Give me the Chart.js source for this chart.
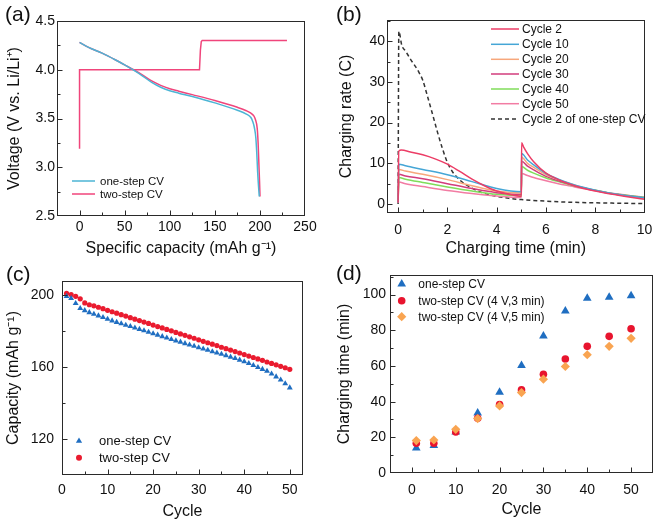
<!DOCTYPE html>
<html><head><meta charset="utf-8">
<script src="https://cdn.jsdelivr.net/npm/chart.js@4.4.0/dist/chart.umd.min.js"></script>
<style>
html,body{margin:0;padding:0;background:#fff;}
#wrap{position:relative;width:661px;height:523px;overflow:hidden;font-family:"Liberation Sans",Arial,Helvetica,sans-serif;}
canvas{position:absolute;}
.lab{position:absolute;font-size:21px;color:#111;line-height:1;}
</style></head><body>
<div id="wrap">
<canvas id="ca" width="330" height="260" style="left:0;top:0"></canvas>
<canvas id="cb" width="331" height="260" style="left:330px;top:0"></canvas>
<canvas id="cc" width="330" height="263" style="left:0;top:260px"></canvas>
<canvas id="cd" width="331" height="263" style="left:330px;top:260px"></canvas>
<div class="lab" style="left:5px;top:3px">(a)</div>
<div class="lab" style="left:336px;top:3px">(b)</div>
<div class="lab" style="left:6px;top:263px">(c)</div>
<div class="lab" style="left:336px;top:262px">(d)</div>
</div>
<script>
// ---------- data: panel (a) ----------
const aXTicks=[0,50,100,150,200,250];
const aXLabels=['0','50','100','150','200','250'];
const aYTicks=[2.5,3.0,3.5,4.0,4.5];
const aYLabels=['2.5','3.0','3.5','4.0','4.5'];
const aOneCap=[0,10,25,40,50,60,70,80,90,100,110,125,150,175,185,190,192,194,195.5,196.5,197.5,198.5,199.3];
const aOneV=[4.28,4.23,4.17,4.10,4.05,3.995,3.935,3.87,3.82,3.785,3.76,3.725,3.66,3.585,3.545,3.51,3.47,3.40,3.30,3.15,2.95,2.80,2.70];
const aTwoCap=[0,10,25,40,50,60,70,80,90,100,110,125,150,175,185,190,193,195,197,198,199,199.6,200.1];
const aTwoV=[4.28,4.23,4.17,4.10,4.05,4.0,3.945,3.885,3.84,3.805,3.78,3.745,3.685,3.615,3.58,3.555,3.53,3.49,3.40,3.25,3.0,2.85,2.70];
const aChgCap=[0,0,133,134,135,136,230];
const aChgV=[3.19,4.0,4.0,4.2,4.29,4.3,4.3];
// ---------- data: panel (b) ----------
const bXTicks=[0,2,4,6,8,10];
const bXLabels=['0','2','4','6','8','10'];
const bYTicks=[0,10,20,30,40];
const bYLabels=['0','10','20','30','40'];
const bC2T=[0,0.03,0.13,0.5,1,1.5,2,2.5,3,3.5,4,4.5,5,5.01,5.1,5.25,5.5,6,6.5,7,7.5,8,8.5,9,9.5,10];
const bC2R=[0.3,13.0,13.25,12.8,12.1,11.1,9.8,8.0,6.1,4.5,3.2,2.4,1.9,15.05,13.9,12.4,10.4,7.6,6.0,4.8,3.9,3.2,2.6,2.1,1.6,1.15];
const bT=[0,0.03,0.3,1,2,3,4,5,5.01,5.25,5.5,6,6.5,7,7.5,8,8.5,9,9.5,10];
const bC10R=[0.3,9.8,9.4,8.5,7.2,5.5,3.8,3.0,12.4,10.8,9.6,7.5,6.1,5.0,4.1,3.4,2.8,2.3,1.9,1.55];
const bC20R=[0.3,8.5,8.1,7.3,6.0,4.5,3.2,2.7,11.5,10.0,9.0,7.2,6.0,5.0,4.1,3.3,2.7,2.2,1.8,1.45];
const bC30R=[0.3,7.3,6.9,6.2,5.0,3.8,2.8,2.4,10.5,9.3,8.4,6.8,5.7,4.8,4.0,3.3,2.7,2.25,1.85,1.5];
const bC40R=[0.3,6.5,6.1,5.3,4.2,3.2,2.4,2.1,9.2,8.3,7.6,6.4,5.5,4.7,4.0,3.4,2.8,2.35,1.95,1.6];
const bC50R=[0.3,5.4,5.0,4.3,3.35,2.6,1.95,1.6,7.5,7.0,6.5,5.7,5.0,4.4,3.8,3.3,2.8,2.4,2.0,1.7];
const bOneT=[0,0.03,0.15,0.3,0.5,0.7,0.85,1.0,1.2,1.4,1.6,1.8,2.0,2.2,2.5,3.0,3.5,4.0,4.5,5,6,7,8,9,10];
const bOneR=[0,42.4,39.0,37.6,35.6,33.8,32.3,30.4,26.3,22.0,17.6,13.6,10.2,8.0,5.9,3.9,2.6,1.9,1.4,1.1,0.7,0.45,0.3,0.2,0.1];
// ---------- data: panel (c) ----------
const cXTicks=[0,10,20,30,40,50];
const cXLabels=['0','10','20','30','40','50'];
const cYTicks=[120,160,200];
const cYLabels=['120','160','200'];
const cCycles=[1,2,3,4,5,6,7,8,9,10,11,12,13,14,15,16,17,18,19,20,21,22,23,24,25,26,27,28,29,30,31,32,33,34,35,36,37,38,39,40,41,42,43,44,45,46,47,48,49,50];
const cOne=[199.3,198.2,195.4,192.6,191.4,190.3,189.4,188.5,187.6,186.6,185.7,184.9,184.1,183.3,182.6,181.8,181.0,180.2,179.4,178.6,177.8,177.0,176.2,175.4,174.6,173.9,173.1,172.3,171.6,170.8,170.1,169.4,168.6,167.9,167.2,166.4,165.6,164.8,163.9,163.0,162.0,160.9,159.8,158.8,157.7,156.2,154.6,152.9,150.8,148.5];
const cTwo=[200.9,200.3,199.3,197.9,195.6,194.6,194.0,193.2,192.4,191.5,190.7,189.9,189.1,188.3,187.4,186.6,185.8,185.0,184.2,183.3,182.5,181.7,180.9,180.1,179.2,178.4,177.6,176.8,176.0,175.1,174.3,173.5,172.7,171.9,171.0,170.2,169.4,168.6,167.8,166.9,166.1,165.3,164.5,163.7,162.8,162.0,161.2,160.4,159.6,158.7];
// ---------- data: panel (d) ----------
const dXTicks=[0,10,20,30,40,50];
const dXLabels=['0','10','20','30','40','50'];
const dYTicks=[0,20,40,60,80,100];
const dYLabels=['0','20','40','60','80','100'];
const dCycles=[1,5,10,15,20,25,30,35,40,45,50];
const dOne=[14.0,15.4,23.0,33.7,45.3,60.3,76.8,90.8,97.9,98.5,99.4];
const dTwo3=[16.7,16.7,23.0,30.7,38.4,46.6,55.4,63.9,71.0,76.6,80.9];
const dTwo5=[18.2,18.5,24.5,30.5,37.6,45.1,52.6,59.7,66.3,71.0,75.5];

// ---------- helpers ----------
const FAM='"Liberation Sans", Arial, Helvetica, sans-serif';
Chart.defaults.font.family=FAM;
Chart.defaults.color='#111';
function xy(xs,ys){return xs.map((x,i)=>({x:x,y:ys[i]}));}
function axis(o){
  return {type:'linear',min:o.min,max:o.max,
    grid:{display:false,drawTicks:false},border:{display:false},
    ticks:{autoSkip:false,maxRotation:0,padding:o.tickPad,font:{size:14},color:'#111',
      callback:(v,i)=>o.labels[i]},
    afterBuildTicks:s=>{s.ticks=o.ticks.map(v=>({value:v}));},
    afterFit:s=>{if(o.isX) s.height=o.size; else s.width=o.size;},
    title:{display:true,text:o.title,font:{size:16},color:'#111',
      padding:o.isX?{top:0,bottom:o.titlePad}:{top:o.titlePad,bottom:0}}
  };
}
function marker(ctx,style,x,y,r,color){
  ctx.save();ctx.fillStyle=color;ctx.strokeStyle=color;ctx.lineWidth=1;ctx.beginPath();
  if(style==='triangle'){
    for(let k=0;k<3;k++){const a=k*2*Math.PI/3;const px=x+Math.sin(a)*r,py=y-Math.cos(a)*r;if(k)ctx.lineTo(px,py);else ctx.moveTo(px,py);}
    ctx.closePath();
  }else if(style==='rectRot'){
    ctx.moveTo(x,y-r);ctx.lineTo(x+r,y);ctx.lineTo(x,y+r);ctx.lineTo(x-r,y);ctx.closePath();
  }else{ctx.arc(x,y,r,0,Math.PI*2);}
  ctx.fill();ctx.restore();
}
const deco={id:'deco',
  afterDatasetsDraw(chart,args,o){
    const ctx=chart.ctx,a=chart.chartArea,xs=chart.scales.x,ys=chart.scales.y;
    ctx.save();
    ctx.strokeStyle='#2a2a2a';ctx.lineWidth=1;
    const L=Math.round(a.left)+0.5,T=Math.round(a.top)+0.5,R=Math.round(a.right)-0.5,B=Math.round(a.bottom)-0.5;
    ctx.strokeRect(L,T,R-L,B-T);
    ctx.beginPath();
    const minors=(scale,step,majors)=>{const out=[];const n0=Math.ceil(scale.min/step-1e-9),n1=Math.floor(scale.max/step+1e-9);
      for(let k=n0;k<=n1;k++){const v=k*step;if(majors.some(m=>Math.abs(m-v)<1e-9))continue;out.push(v);}return out;};
    const xt=(v,len)=>{const p=Math.round(xs.getPixelForValue(v))+0.5;if(p<L+1||p>R-1)return;ctx.moveTo(p,B);ctx.lineTo(p,B-len);};
    const yt=(v,len)=>{const p=Math.round(ys.getPixelForValue(v))+0.5;if(p<T+1||p>B-1)return;ctx.moveTo(L,p);ctx.lineTo(L+len,p);};
    xs.ticks.forEach(t=>xt(t.value,5));
    ys.ticks.forEach(t=>yt(t.value,5));
    minors(xs,o.xMinor,xs.ticks.map(t=>t.value)).forEach(v=>xt(v,3));
    minors(ys,o.yMinor,ys.ticks.map(t=>t.value)).forEach(v=>yt(v,3));
    ctx.stroke();
    // legend
    ctx.font=o.font+'px '+FAM;ctx.textBaseline='middle';ctx.fillStyle='#111';
    o.items.forEach(it=>{
      if(it.kind==='line'){
        ctx.save();ctx.strokeStyle=it.color;ctx.lineWidth=1.5;ctx.setLineDash(it.dash||[]);
        ctx.beginPath();ctx.moveTo(it.x1,it.y);ctx.lineTo(it.x2,it.y);ctx.stroke();ctx.restore();
      }else{marker(ctx,it.style,it.x,it.y,it.r,it.color);}
      ctx.fillStyle='#111';ctx.fillText(it.text,it.tx,it.y+0.5);
    });
    ctx.restore();
  }
};
const common={responsive:false,animation:false,events:[],
  plugins:{legend:{display:false},tooltip:{enabled:false}}};
function lineDs(data,color,extra){return Object.assign({data:data,borderColor:color,backgroundColor:color,borderWidth:1.5,pointRadius:0,fill:false,cubicInterpolationMode:'monotone'},extra||{});}

// ---------- panel (a) ----------
const colOneA='#4cb5d5',colTwoA='#f0457b';
new Chart(document.getElementById('ca'),{type:'line',plugins:[deco],
  data:{datasets:[
    lineDs(xy(aOneCap,aOneV),colOneA,{label:'one-step CV',order:0}),
    lineDs(xy(aTwoCap,aTwoV),colTwoA,{label:'two-step CV',order:1}),
    lineDs(xy(aChgCap,aChgV),colTwoA,{label:'two-step CV',order:2,cubicInterpolationMode:'default',tension:0})
  ]},
  options:Object.assign({},common,{
    layout:{padding:{left:0,top:21,right:25,bottom:0}},
    scales:{
      x:axis({isX:true,min:-25,max:250,ticks:aXTicks,labels:aXLabels,title:'Specific capacity (mAh g\u207B\u00B9)',tickPad:2.6,titlePad:1.4,size:44}),
      y:axis({isX:false,min:2.5,max:4.5,ticks:aYTicks,labels:aYLabels,title:'Voltage (V vs. Li/Li\u207A)',tickPad:2,titlePad:5.4,size:57})
    },
    plugins:Object.assign({},common.plugins,{deco:{xMinor:25,yMinor:0.25,font:11.5,items:[
      {kind:'line',color:colOneA,x1:72,x2:95,y:181,tx:100,text:'one-step CV'},
      {kind:'line',color:colTwoA,x1:72,x2:95,y:194,tx:100,text:'two-step CV'}
    ]}})
  })
});

// ---------- panel (b) ----------
const bCols=['#ec3d66','#45a6d6','#f7a77c','#d23c7d','#80dd5a','#f27ca3'];
const bNames=['Cycle 2','Cycle 10','Cycle 20','Cycle 30','Cycle 40','Cycle 50'];
const bRows=[29,44.3,59.3,74,89,103.7,119];
const bItems=bNames.map((n,i)=>({kind:'line',color:bCols[i],x1:161,x2:189,y:bRows[i],tx:192,text:n}));
bItems.push({kind:'line',color:'#333',dash:[4,3],x1:161,x2:189,y:bRows[6],tx:192,text:'Cycle 2 of one-step CV'});
new Chart(document.getElementById('cb'),{type:'line',plugins:[deco],
  data:{datasets:[
    lineDs(xy(bC2T,bC2R),bCols[0],{label:bNames[0]}),
    lineDs(xy(bT,bC10R),bCols[1],{label:bNames[1]}),
    lineDs(xy(bT,bC20R),bCols[2],{label:bNames[2]}),
    lineDs(xy(bT,bC30R),bCols[3],{label:bNames[3]}),
    lineDs(xy(bT,bC40R),bCols[4],{label:bNames[4]}),
    lineDs(xy(bT,bC50R),bCols[5],{label:bNames[5]}),
    lineDs(xy(bOneT,bOneR),'#333',{label:'Cycle 2 of one-step CV',borderDash:[4,3]})
  ]},
  options:Object.assign({},common,{
    layout:{padding:{left:0,top:20,right:9,bottom:0}},
    scales:{
      x:axis({isX:true,min:-0.45,max:10,ticks:bXTicks,labels:bXLabels,title:'Charging time (min)',tickPad:8.6,titlePad:2.1,size:47}),
      y:axis({isX:false,min:-2.2,max:45.2,ticks:bYTicks,labels:bYLabels,title:'Charging rate (C)',tickPad:2,titlePad:7,size:57})
    },
    plugins:Object.assign({},common.plugins,{deco:{xMinor:1,yMinor:5,font:12,items:bItems}})
  })
});

// ---------- panel (c) ----------
const colBlue='#1f6ec1',colRedC='#ea1b2f';
new Chart(document.getElementById('cc'),{type:'scatter',plugins:[deco],
  data:{datasets:[
    {label:'one-step CV',data:xy(cCycles,cOne),pointStyle:'triangle',pointRadius:3.4,borderWidth:0,backgroundColor:colBlue,borderColor:colBlue},
    {label:'two-step CV',data:xy(cCycles,cTwo),pointStyle:'circle',pointRadius:2.6,borderWidth:0,backgroundColor:colRedC,borderColor:colRedC}
  ]},
  options:Object.assign({},common,{
    layout:{padding:{left:0,top:21,right:27,bottom:0}},
    scales:{
      x:axis({isX:true,min:0,max:52.9,ticks:cXTicks,labels:cXLabels,title:'Cycle',tickPad:6.6,titlePad:1.7,size:48}),
      y:axis({isX:false,min:100,max:207.8,ticks:cYTicks,labels:cYLabels,title:'Capacity (mAh g\u207B\u00B9)',tickPad:8,titlePad:3.7,size:62})
    },
    plugins:Object.assign({},common.plugins,{deco:{xMinor:5,yMinor:20,font:13,items:[
      {kind:'pt',style:'triangle',color:colBlue,r:3.6,x:79,y:181,tx:99,text:'one-step CV'},
      {kind:'pt',style:'circle',color:colRedC,r:3,x:79,y:197.7,tx:99,text:'two-step CV'}
    ]}})
  })
});

// ---------- panel (d) ----------
const colRedD='#e8142e',colOrg='#f9a451';
new Chart(document.getElementById('cd'),{type:'scatter',plugins:[deco],
  data:{datasets:[
    {label:'one-step CV',data:xy(dCycles,dOne),pointStyle:'triangle',pointRadius:5,borderWidth:0,backgroundColor:colBlue,borderColor:colBlue,order:2},
    {label:'two-step CV (4 V,3 min)',data:xy(dCycles,dTwo3),pointStyle:'circle',pointRadius:3.8,borderWidth:0,backgroundColor:colRedD,borderColor:colRedD,order:1},
    {label:'two-step CV (4 V,5 min)',data:xy(dCycles,dTwo5),pointStyle:'rectRot',pointRadius:4.6,borderWidth:0,backgroundColor:colOrg,borderColor:colOrg,order:0}
  ]},
  options:Object.assign({},common,{
    layout:{padding:{left:0,top:15,right:8,bottom:0}},
    scales:{
      x:axis({isX:true,min:-5,max:55,ticks:dXTicks,labels:dXLabels,title:'Cycle',tickPad:8.6,titlePad:3.4,size:50}),
      y:axis({isX:false,min:0,max:111,ticks:dYTicks,labels:dYLabels,title:'Charging time (min)',tickPad:4,titlePad:5.4,size:60})
    },
    plugins:Object.assign({},common.plugins,{deco:{xMinor:5,yMinor:10,font:12,items:[
      {kind:'pt',style:'triangle',color:colBlue,r:5,x:71.7,y:24,tx:88.3,text:'one-step CV'},
      {kind:'pt',style:'circle',color:colRedD,r:3.8,x:71.7,y:40.7,tx:88.3,text:'two-step CV (4 V,3 min)'},
      {kind:'pt',style:'rectRot',color:colOrg,r:4.6,x:71.7,y:56.7,tx:88.3,text:'two-step CV (4 V,5 min)'}
    ]}})
  })
});
</script>
</body></html>
